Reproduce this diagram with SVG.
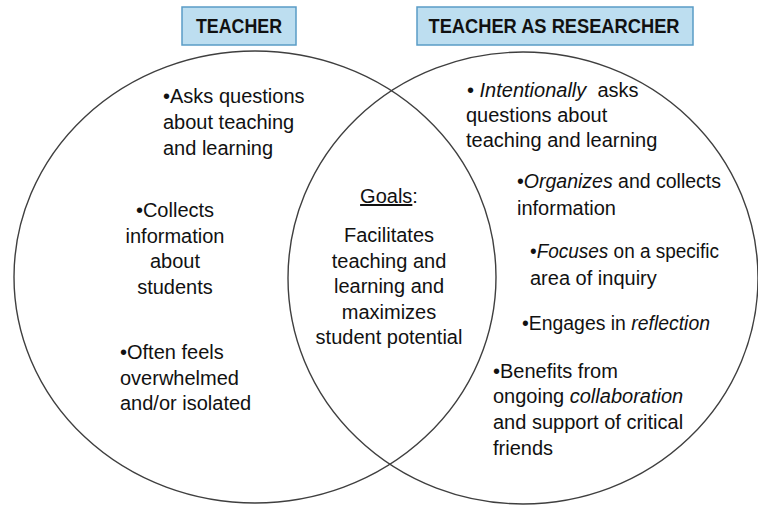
<svg xmlns="http://www.w3.org/2000/svg" width="758" height="505" viewBox="0 0 758 505">
<style>
  .bg { fill: #ffffff; }
  .circ { fill: none; stroke: #3f3f3f; stroke-width: 1.4; }
  .hdr { fill: #bddef0; stroke: #5a9cc6; stroke-width: 1.5; }
  .ht { font-family: "Liberation Sans", Arial, sans-serif; font-weight: bold; font-size: 20px; fill: #111; text-anchor: middle; }
  .t { font-family: "Liberation Sans", Arial, sans-serif; font-size: 20px; fill: #111; }
  .c { text-anchor: middle; }
  .i { font-style: italic; }
  .u { text-decoration: underline; }
</style>
<rect class="bg" x="0" y="0" width="758" height="505"/>

<g id="circle-teacher">
  <ellipse class="circ" cx="255" cy="277" rx="241" ry="226"/>
</g>
<g id="circle-researcher">
  <ellipse class="circ" cx="523" cy="278" rx="235" ry="226"/>
</g>

<g id="header-teacher">
  <rect class="hdr" x="182" y="7" width="114" height="38"/>
  <text class="ht" x="239" y="33" textLength="86" lengthAdjust="spacingAndGlyphs">TEACHER</text>
</g>
<g id="header-researcher">
  <rect class="hdr" x="417" y="7" width="276" height="38"/>
  <text class="ht" x="554" y="33" textLength="251" lengthAdjust="spacingAndGlyphs">TEACHER AS RESEARCHER</text>
</g>

<g id="teacher-items">
  <text class="t" x="163" y="103">•Asks questions</text>
  <text class="t" x="163" y="129">about teaching</text>
  <text class="t" x="163" y="155">and learning</text>

  <text class="t c" x="175" y="217">•Collects</text>
  <text class="t c" x="175" y="243">information</text>
  <text class="t c" x="175" y="268">about</text>
  <text class="t c" x="175" y="294">students</text>

  <text class="t" x="120" y="359">•Often feels</text>
  <text class="t" x="120" y="385">overwhelmed</text>
  <text class="t" x="120" y="410">and/or isolated</text>
</g>

<g id="shared-goals">
  <text class="t c" x="389" y="203"><tspan class="u">Goals</tspan>:</text>
  <text class="t c" x="389" y="242">Facilitates</text>
  <text class="t c" x="389" y="268">teaching and</text>
  <text class="t c" x="389" y="293">learning and</text>
  <text class="t c" x="389" y="319">maximizes</text>
  <text class="t c" x="389" y="344">student potential</text>
</g>

<g id="researcher-items">
  <text class="t" x="467" y="97" xml:space="preserve">• <tspan class="i">Intentionally</tspan>  asks</text>
  <text class="t" x="466" y="122">questions about</text>
  <text class="t" x="466" y="147">teaching and learning</text>

  <text class="t" x="517" y="188" textLength="204" lengthAdjust="spacingAndGlyphs">•<tspan class="i">Organizes</tspan> and collects</text>
  <text class="t" x="517" y="215">information</text>

  <text class="t" x="530" y="258" textLength="189" lengthAdjust="spacingAndGlyphs">•<tspan class="i">Focuses</tspan> on a specific</text>
  <text class="t" x="530" y="285">area of inquiry</text>

  <text class="t" x="522" y="330" textLength="188" lengthAdjust="spacingAndGlyphs">•Engages in <tspan class="i">reflection</tspan></text>

  <text class="t" x="493" y="378">•Benefits from</text>
  <text class="t" x="493" y="403">ongoing <tspan class="i">collaboration</tspan></text>
  <text class="t" x="493" y="429">and support of critical</text>
  <text class="t" x="493" y="455">friends</text>
</g>
</svg>
